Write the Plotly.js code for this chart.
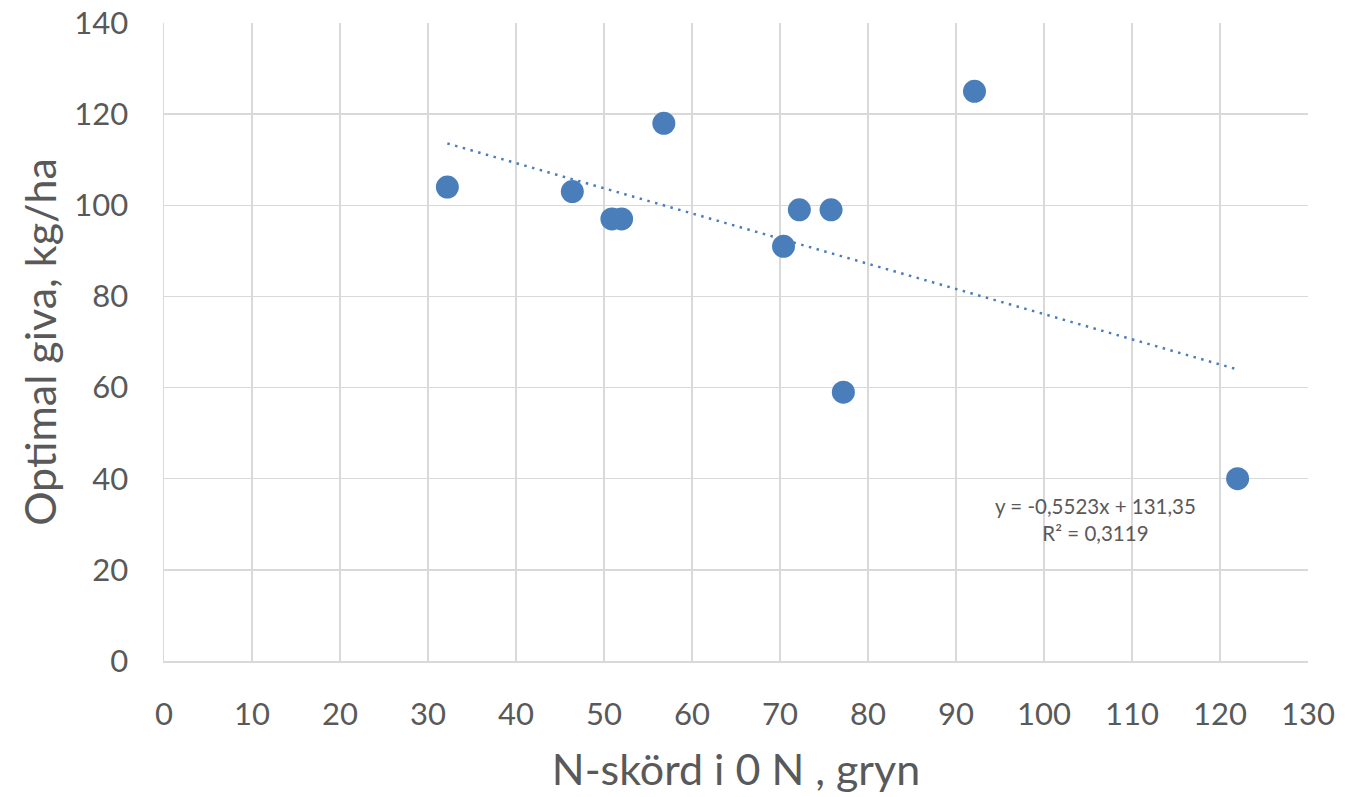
<!DOCTYPE html>
<html>
<head>
<meta charset="utf-8">
<script src="https://cdn.plot.ly/plotly-3.0.1.min.js"></script>
<style>html,body{margin:0;padding:0;background:#fff;}#chart{width:1345px;height:797px;}</style>
</head>
<body>
<div id="chart"></div>
<script>
// Data
const nSkord = [32.2, 46.4, 50.9, 52.0, 56.8, 70.4, 72.2, 75.8, 77.2, 92.1, 122.0];
const optimalGiva = [104, 103, 97, 97, 118, 91, 99, 99, 59, 125, 40];
const trendSlope = -0.5523;
const trendIntercept = 131.35;
const equationText = "y = -0,5523x + 131,35<br>R² = 0,3119";
const xTicks = [0,10,20,30,40,50,60,70,80,90,100,110,120,130];
const yTicks = [0,20,40,60,80,100,120,140];

const xMin = Math.min(...nSkord), xMax = Math.max(...nSkord);
const trendX = [xMin, xMax];
const trendY = trendX.map(x => trendIntercept + trendSlope * x);

const blue = '#4a7ebb';
const txt = '#595959';
const font = 'Lato, "Open Sans", sans-serif';

const data = [
  {x: trendX, y: trendY, type: 'scatter', mode: 'lines',
   line: {color: blue, width: 2.5, dash: '2.5px,5.5px'}, hoverinfo: 'skip'},
  {x: nSkord, y: optimalGiva, type: 'scatter', mode: 'markers',
   marker: {color: blue, size: 23, line: {width: 0}}}
];

const layout = {
  width: 1345, height: 797,
  margin: {l: 164, r: 37, t: 23, b: 136},
  paper_bgcolor: '#fff', plot_bgcolor: '#fff',
  showlegend: false,
  font: {family: font, color: txt},
  xaxis: {
    range: [0, 130], tickvals: xTicks, ticktext: xTicks.map(String),
    showgrid: true, gridcolor: '#d9d9d9', gridwidth: 1.5,
    zeroline: false, showline: true, linecolor: '#d9d9d9', linewidth: 1.5,
    ticks: 'outside', ticklen: 25, tickcolor: 'rgba(0,0,0,0)',
    tickfont: {size: 31, color: txt, family: font},
    title: {text: 'N-skörd i 0 N , gryn', font: {size: 43, color: txt, family: font}, standoff: 24},
    fixedrange: true
  },
  yaxis: {
    range: [0, 140], tickvals: yTicks, ticktext: yTicks.map(String),
    showgrid: true, gridcolor: '#d9d9d9', gridwidth: 1.5,
    zeroline: false, showline: true, linecolor: '#d9d9d9', linewidth: 1.5,
    ticks: 'outside', ticklen: 28, tickcolor: 'rgba(0,0,0,0)',
    tickfont: {size: 31, color: txt, family: font},
    title: {text: 'Optimal giva, kg/ha', font: {size: 43, color: txt, family: font}, standoff: 4},
    fixedrange: true
  },
  annotations: [{
    x: 105.8, y: 31, xref: 'x', yref: 'y', text: equationText, showarrow: false,
    align: 'center', font: {size: 20.5, color: txt, family: font}
  }]
};

Plotly.newPlot('chart', data, layout, {displayModeBar: false, staticPlot: true});
</script>
</body>
</html>
